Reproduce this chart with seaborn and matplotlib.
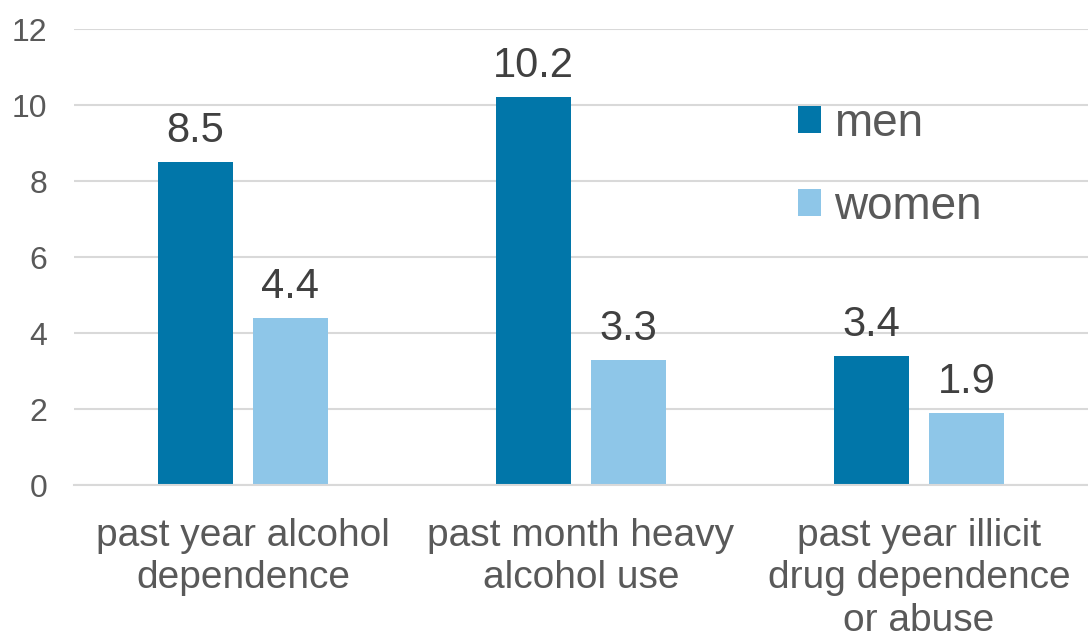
import matplotlib
matplotlib.use("Agg")
import matplotlib.pyplot as plt
import seaborn as sns
import pandas as pd

# Prevalence (%) by sex
categories = ["past year alcohol\ndependence",
              "past month heavy\nalcohol use",
              "past year illicit\ndrug dependence\nor abuse"]
men = [8.5, 10.2, 3.4]
women = [4.4, 3.3, 1.9]
groups = ["men", "women"]
colors = ["#0176A9", "#8EC6E8"]

df = pd.DataFrame({
    "category": categories * 2,
    "sex": [groups[0]] * len(men) + [groups[1]] * len(women),
    "value": men + women,
})

sns.set_theme(style="white")
plt.rcParams["font.family"] = ["Liberation Sans", "DejaVu Sans"]

fig = plt.figure(figsize=(10.88, 6.39), dpi=100)
ax = fig.add_axes([0.068, 0.241, 0.932, 0.7135])

sns.barplot(data=df, x="category", y="value", hue="sex",
            palette=colors, width=0.562, gap=0.22, ax=ax,
            saturation=1, edgecolor="none", linewidth=0)

for cont in ax.containers:
    ax.bar_label(cont, fmt="%.1f", padding=8, fontsize=30, color="#404040")

ax.set_ylim(0, 12)
ax.set_yticks(range(0, 13, 2))
ax.yaxis.grid(True, color="#d9d9d9", linewidth=1.5)
ax.set_axisbelow(True)
for side in ["top", "right", "left"]:
    ax.spines[side].set_visible(False)
ax.spines["bottom"].set_color("#d9d9d9")
ax.spines["bottom"].set_linewidth(1.5)

ax.set_xlabel("")
ax.set_ylabel("")
ax.tick_params(axis="y", length=0, pad=19, labelsize=23, labelcolor="#595959")
ax.tick_params(axis="x", length=0, pad=24, labelsize=28, labelcolor="#595959")
for lbl in ax.get_xticklabels():
    lbl.set_linespacing(1.22)

sns.move_legend(ax, "upper left", bbox_to_anchor=(0.712, 0.877),
                bbox_transform=fig.transFigure, frameon=False, title=None,
                fontsize=33, handlelength=0.52, handleheight=0.52,
                handletextpad=0.28, labelspacing=0.86, borderpad=0)
for t in ax.get_legend().get_texts():
    t.set_color("#595959")

fig.savefig("out.png", dpi=100)
